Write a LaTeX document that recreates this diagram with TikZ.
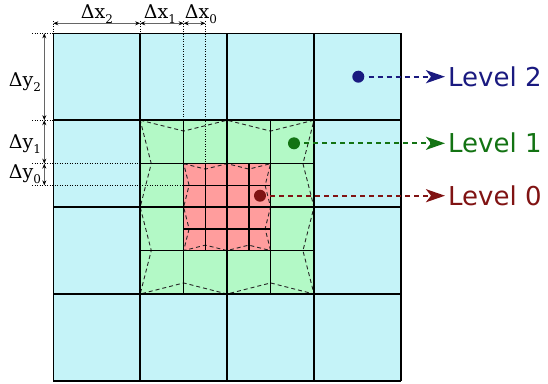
\documentclass[tikz,border=0pt]{standalone}
\usepackage{fontspec}
\setmainfont{DejaVu Sans}
\newfontfamily\dvserif{DejaVu Serif}
\usetikzlibrary{arrows.meta}
\definecolor{cblue}{HTML}{C5F3F8}
\definecolor{cgreen}{HTML}{B3F9C6}
\definecolor{cred}{HTML}{FF9D9D}
\definecolor{lvtwo}{HTML}{1A1A80}
\definecolor{lvone}{HTML}{137313}
\definecolor{lvzero}{HTML}{801313}
\newcommand{\dlab}[2]{{\dvserif\fontsize{19}{19}\selectfont #1\raisebox{-5pt}{\fontsize{12}{12}\selectfont #2}}}
\tikzset{
  gridl/.style={line width=1.6pt, black},
  meshdash/.style={line width=0.9pt, black!85, dash pattern=on 4pt off 3pt},
  extline/.style={line width=0.7pt, black, dash pattern=on 1pt off 1.5pt},
  dimline/.style={line width=0.8pt, black!60, {Stealth[length=5pt,width=4pt,black]}-{Stealth[length=5pt,width=4pt,black]}},
  lvdot/.style={circle, fill=#1, inner sep=0pt, minimum size=12pt},
  lvtext/.style={anchor=west, text=#1, inner sep=0pt, font=\fontsize{26}{26}\selectfont},
  lvarrow/.style={#1, line width=2.2pt, dash pattern=on 5pt off 4pt, -{Stealth[length=19pt,width=13pt,inset=5pt]}, shorten <=4pt, shorten >=3pt},
  dimlabel/.style={anchor=base, inner sep=0pt}
}
\begin{document}
\begin{tikzpicture}[x=1pt,y=-1pt]
\useasboundingbox (0,0) rectangle (548,383);
% fills
\fill[cblue] (53.3,33.3) rectangle (400.9,380.9);
\fill[cgreen] (140.2,120.2) rectangle (314.0,294.0);
\fill[cred] (183.65,163.65) rectangle (270.55,250.55);
% dashed mesh boundaries
\draw[meshdash] (140.2,120.2) -- (183.65,131.06) -- (227.1,120.2) -- (270.55,131.06) -- (314.0,120.2)
  -- (302.94,163.65) -- (314.0,207.1) -- (302.94,250.55) -- (314.0,294.0)
  -- (270.55,282.94) -- (227.1,294.0) -- (183.65,282.94) -- (140.2,294.0)
  -- (151.26,250.55) -- (140.2,207.1) -- (151.26,163.65) -- cycle;
\draw[meshdash] (183.65,163.65) -- (205.375,169.08) -- (227.1,163.65) -- (248.825,169.08) -- (270.55,163.65)
  -- (265.12,185.375) -- (270.55,207.1) -- (265.12,228.825) -- (270.55,250.55)
  -- (248.825,245.12) -- (227.1,250.55) -- (205.375,245.12) -- (183.65,250.55)
  -- (189.08,228.825) -- (183.65,207.1) -- (189.08,185.375) -- cycle;
% extension lines
\draw[extline] (53.3,21) -- (53.3,33.3);
\draw[extline] (140.2,21) -- (140.2,33.3);
\draw[extline] (183.65,21) -- (183.65,120.2);
\draw[extline] (205.375,21) -- (205.375,163.65);
\draw[extline] (32,33.3) -- (53.3,33.3);
\draw[extline] (32,120.2) -- (53.3,120.2);
\draw[extline] (32,163.65) -- (140.2,163.65);
\draw[extline] (32,185.375) -- (183.65,185.375);
% level 0 grid
\foreach \k in {0,...,4}{
  \pgfmathsetmacro\pp{183.65+\k*21.725}
  \draw[gridl] (\pp,163.65) -- (\pp,250.55);
  \draw[gridl] (183.65,\pp-20) -- (270.55,\pp-20);
}
% level 1 grid
\foreach \k in {0,...,4}{
  \pgfmathsetmacro\pp{140.2+\k*43.45}
  \draw[gridl] (\pp,120.2) -- (\pp,294.0);
  \draw[gridl] (140.2,\pp-20) -- (314.0,\pp-20);
}
% level 2 grid
\foreach \k in {0,...,4}{
  \pgfmathsetmacro\pp{53.3+\k*86.9}
  \draw[gridl] (\pp,33.3) -- (\pp,380.9);
  \draw[gridl] (53.3,\pp-20) -- (400.9,\pp-20);
}
% dimension lines
\coordinate (hx0) at (53.3,23.3);
\coordinate (hx1) at (140.2,23.3);
\coordinate (hx2) at (183.65,23.3);
\coordinate (hx3) at (205.375,23.3);
\draw[dimline] (hx0) -- (hx1);
\draw[dimline] (hx1) -- (hx2);
\draw[dimline] (hx2) -- (hx3);
\coordinate (vy0) at (44.3,33.3);
\coordinate (vy1) at (44.3,120.2);
\coordinate (vy2) at (44.3,163.65);
\coordinate (vy3) at (44.3,185.375);
\draw[dimline] (vy0) -- (vy1);
\draw[dimline] (vy1) -- (vy2);
\draw[dimline] (vy2) -- (vy3);
\node[dimlabel] (ldx2) at (97,18.3) {\dlab{Δx}{2}};
\node[dimlabel] (ldx1) at (160,18.3) {\dlab{Δx}{1}};
\node[dimlabel] (ldx0) at (201,18.3) {\dlab{Δx}{0}};
\node[dimlabel] (ldy2) at (25,86) {\dlab{Δy}{2}};
\node[dimlabel] (ldy1) at (25,148.3) {\dlab{Δy}{1}};
\node[dimlabel] (ldy0) at (25,178.3) {\dlab{Δy}{0}};
% level markers
\node[lvdot=lvtwo] (d2) at (358.3,76.7) {};
\node[lvdot=lvone] (d1) at (294,143.3) {};
\node[lvdot=lvzero] (d0) at (260,195.7) {};
\node[lvtext=lvtwo] (t2) at (448,76.7) {Level 2};
\node[lvtext=lvone] (t1) at (448,143.3) {Level 1};
\node[lvtext=lvzero] (t0) at (448,195.7) {Level 0};
\draw[lvarrow=lvtwo] (d2) -- (t2.west);
\draw[lvarrow=lvone] (d1) -- (t1.west);
\draw[lvarrow=lvzero] (d0) -- (t0.west);
\end{tikzpicture}
\end{document}
